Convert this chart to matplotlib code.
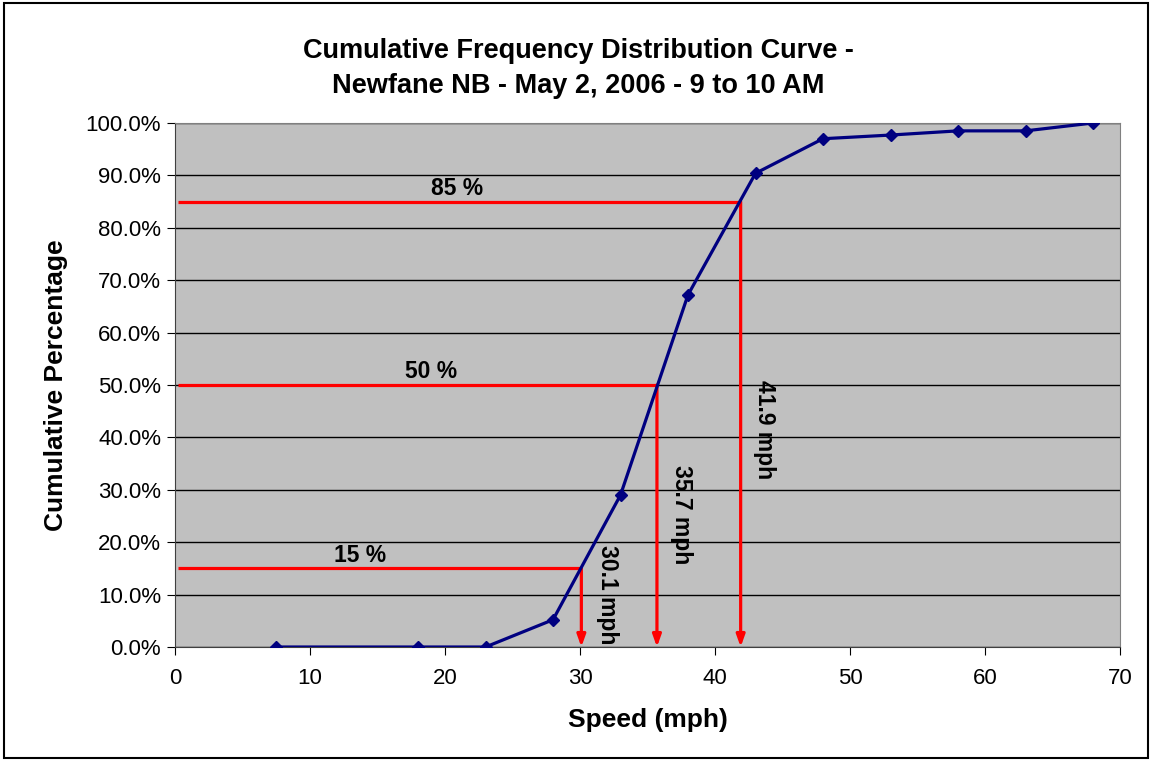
import matplotlib
matplotlib.use("Agg")
import matplotlib.pyplot as plt
from matplotlib.patches import Rectangle
from matplotlib.ticker import FuncFormatter

plt.rcParams['font.family'] = ['Liberation Sans', 'DejaVu Sans']

speed = [7.5, 18, 23, 28, 33, 38, 43, 48, 53, 58, 63, 68]
cum_pct = [0.0, 0.0, 0.0, 5.2, 29.0, 67.2, 90.4, 97.0, 97.7, 98.5, 98.5, 100.0]

pct_levels = [15, 50, 85]
pct_speeds = [30.1, 35.7, 41.9]
pct_labels = ["15 %", "50 %", "85 %"]
speed_labels = ["30.1 mph", "35.7 mph", "41.9 mph"]

W, H = 1151, 761
fig = plt.figure(figsize=(W / 100, H / 100), dpi=100)
fig.patches.append(Rectangle((4 / W, 3 / H), (W - 7) / W, (H - 6) / H, transform=fig.transFigure,
                             fill=False, edgecolor='black', linewidth=1.5))

ax = fig.add_axes([175 / W, 1 - 647 / H, (1120 - 175) / W, (647 - 123) / H])
ax.set_facecolor('#C0C0C0')
ax.set_xlim(0, 70)
ax.set_ylim(0, 100)
ax.set_xticks(range(0, 71, 10))
ax.set_yticks(range(0, 101, 10))
ax.yaxis.set_major_formatter(FuncFormatter(lambda v, p: f"{v:.1f}%"))
ax.grid(axis='y', color='black', linewidth=1)
ax.set_axisbelow(True)
for s in ['top', 'right']:
    ax.spines[s].set_color('#808080')
for s in ['left', 'bottom']:
    ax.spines[s].set_color('#404040')
ax.tick_params(axis='both', direction='out', length=6, labelsize=16, colors='black')
ax.tick_params(axis='x', pad=9)
ax.tick_params(axis='y', pad=4)

# percentile guide lines
for lvl, sp in zip(pct_levels, pct_speeds):
    ax.plot([0.2, sp], [lvl, lvl], color='red', linewidth=2.3, solid_capstyle='butt', zorder=3)
    ax.annotate('', xy=(sp, 0), xytext=(sp, lvl),
                arrowprops=dict(arrowstyle='-|>,head_length=0.7,head_width=0.25', color='red', lw=2.3,
                                shrinkA=0, shrinkB=0), zorder=3)

fs = 16.5
ax.text(20.9, 85.3, pct_labels[2], ha='center', va='bottom', fontsize=fs, fontweight='bold')
ax.text(19.0, 50.3, pct_labels[1], ha='center', va='bottom', fontsize=fs, fontweight='bold')
ax.text(13.7, 15.3, pct_labels[0], ha='center', va='bottom', fontsize=fs, fontweight='bold')
ax.text(32.0, 9.9, speed_labels[0], rotation=270, ha='center', va='center', fontsize=fs, fontweight='bold')
ax.text(37.55, 25.2, speed_labels[1], rotation=270, ha='center', va='center', fontsize=fs, fontweight='bold')
ax.text(43.7, 41.5, speed_labels[2], rotation=270, ha='center', va='center', fontsize=fs, fontweight='bold')

ax.plot(speed, cum_pct, color='#000080', linewidth=2.3, marker='D', markersize=6.5, zorder=4)

ax.set_xlabel("Speed (mph)", fontsize=19, fontweight='bold', labelpad=14)
ax.set_ylabel("Cumulative Percentage", fontsize=19, fontweight='bold', labelpad=13)
fig.text(578 / W, 1 - 68.5 / H,
         "Cumulative Frequency Distribution Curve -\nNewfane NB - May 2, 2006 - 9 to 10 AM",
         ha='center', va='center', fontsize=19.5, fontweight='bold', linespacing=1.45)

fig.savefig("out.png", dpi=100)
